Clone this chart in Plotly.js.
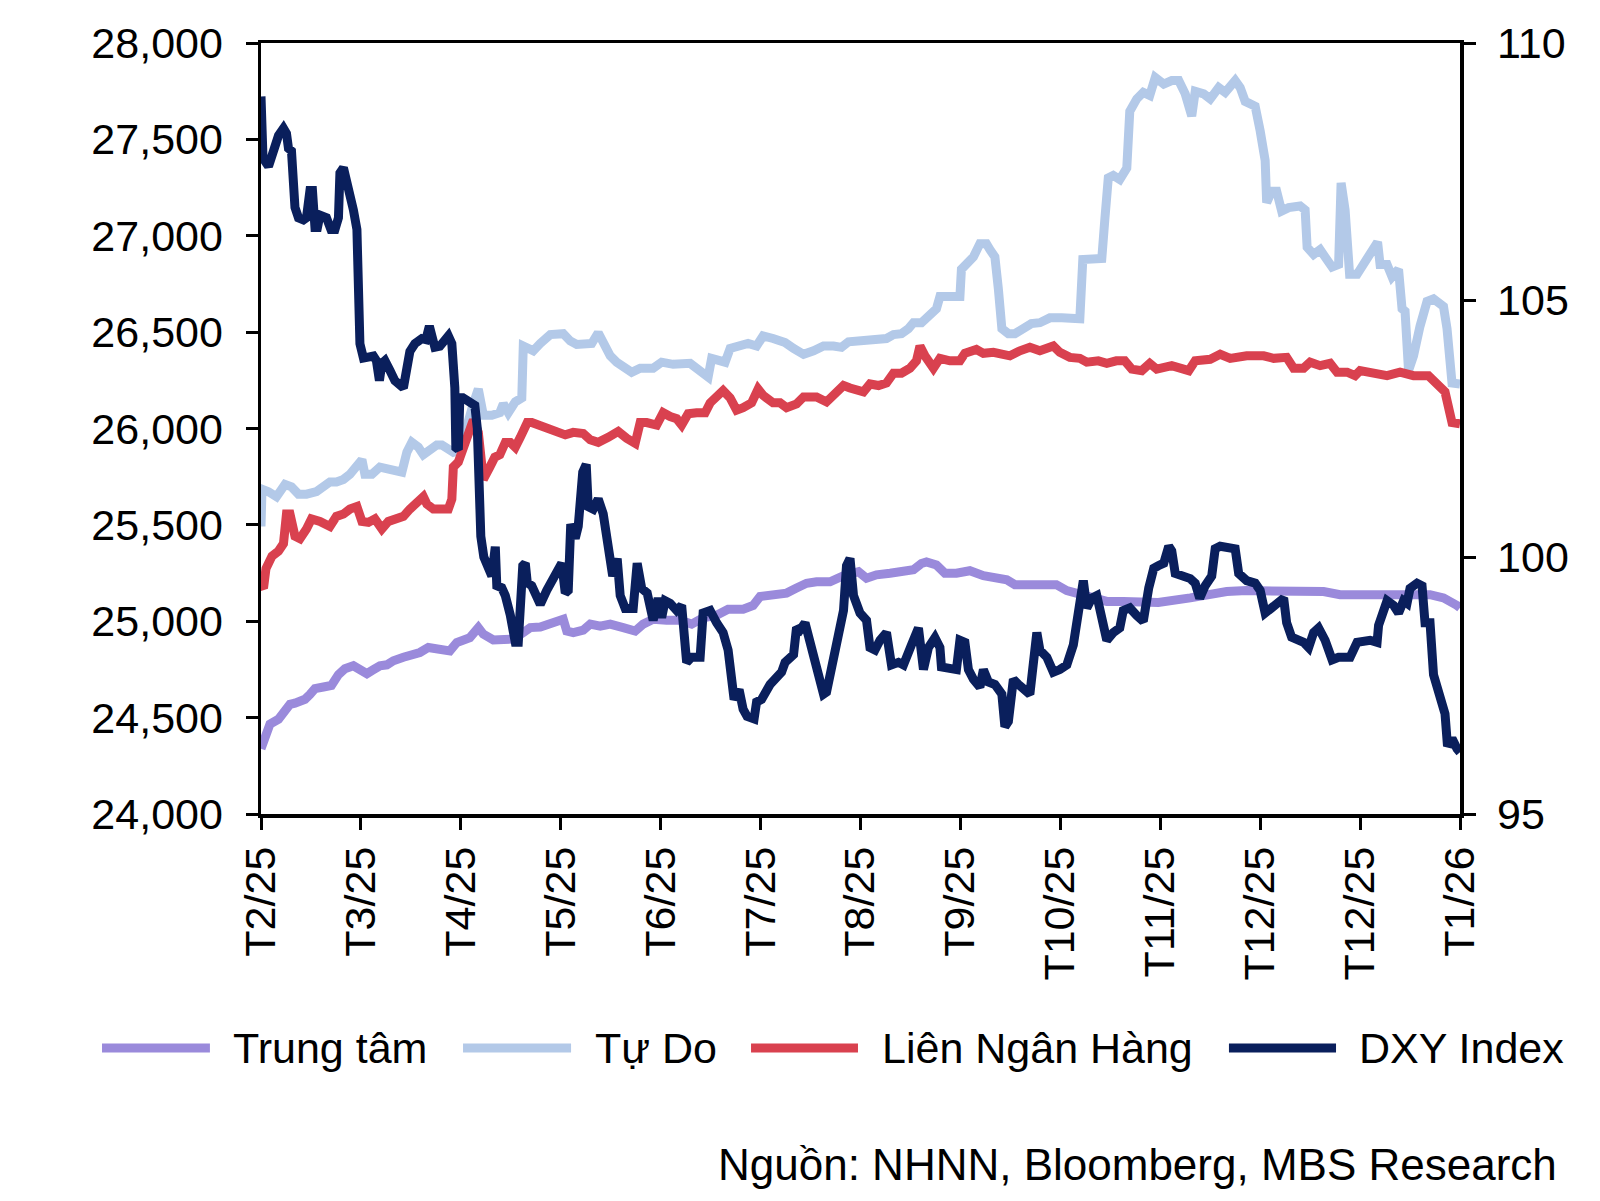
<!DOCTYPE html>
<html>
<head>
<meta charset="utf-8">
<script src="https://cdn.plot.ly/plotly-3.0.1.min.js"></script>
<style>
html,body{margin:0;padding:0;background:#fff;}
#chart{width:1600px;height:1201px;}
</style>
</head>
<body>
<div id="chart"></div>
<script>
// x positions are trading-day indices (0..240); ticks every 20 days
const tickIdx = [0,20,40,60,80,100,120,140,160,180,200,220,240];
const tickLabels = ["T2/25","T3/25","T4/25","T5/25","T6/25","T7/25","T8/25","T9/25","T10/25","T11/25","T12/25","T12/25","T1/26"];
const seriesNames = ["Trung tâm","Tự Do","Liên Ngân Hàng","DXY Index"];

const trungTamX = [0,0.8,1.8,3.5,4.8,5.8,6.8,8.8,9.8,10.8,12.5,14.1,15.5,16.8,18.5,19.8,21.2,22.5,23.8,25.2,26.5,28.5,30.2,31.8,33.5,35.8,37.8,39.2,40.5,41.8,43.5,44.5,46.5,48.5,50.5,52.5,53.9,55.9,57.9,59.5,60.5,61.2,62.5,64.5,65.9,67.9,69.9,72.5,74.9,76.5,78.5,81.2,83.9,86.2,88.5,91.2,93.5,96.5,98.5,99.9,102.5,105.2,107.2,109.2,111.2,113.9,116.6,119.6,121.2,123.2,125.9,128.6,130.6,132.2,133.2,135.2,136.9,139.2,141.9,144.6,147.3,149.3,150.9,153.2,155.9,159.2,161.3,163.9,167.3,169.3,172.6,175.9,179.6,186.0,189.3,193.3,197.3,202.7,208.0,212.7,216.0,222.7,229.4,234.0,236.7,239.4,240];
const trungTam = [24339,24415,24467,24492,24531,24569,24575,24595,24620,24651,24659,24667,24723,24754,24769,24749,24728,24749,24769,24774,24795,24813,24826,24838,24864,24857,24846,24890,24903,24915,24967,24933,24903,24908,24908,24941,24967,24970,24992,25005,25010,24949,24941,24954,24985,24974,24985,24967,24949,24985,25010,25005,25005,24985,25018,25031,25062,25062,25082,25128,25133,25146,25172,25197,25205,25205,25236,25257,25223,25241,25249,25262,25267,25300,25308,25292,25249,25249,25262,25236,25223,25215,25190,25190,25197,25190,25159,25138,25121,25103,25103,25103,25097,25121,25138,25154,25159,25159,25154,25154,25138,25133,25138,25138,25121,25082,25070];

const tuDoX = [0,0.2,1.5,3.1,4.8,6.1,7.5,9.1,11.1,12.8,13.8,15.1,16.5,17.8,18.8,20.2,20.8,22.2,23.8,25.2,26.8,28.2,29.2,30.2,31.5,32.5,33.9,35.2,36.2,37.2,38.5,39.9,41.2,42.4,43.5,43.8,44.5,46.2,47.8,48.5,49.5,50.9,52.2,52.5,53.2,54.5,55.9,57.2,57.9,60.5,61.9,63.2,64.5,66.2,67.5,68.5,69.9,71.2,72.5,74.2,75.9,78.5,80.2,82.5,85.9,87.2,88.5,89.5,90.2,91.5,92.9,93.9,95.9,97.5,99.2,100.5,102.5,104.9,106.6,108.6,110.6,112.6,114.6,116.2,117.6,119.6,122.6,125.2,126.6,128.2,129.6,130.6,132.2,133.9,135.2,135.9,137.9,139.9,140.2,141.6,142.6,143.9,145.2,145.9,146.9,147.6,148.3,149.6,150.9,152.9,154.2,155.9,157.9,160.3,163.9,164.5,166.6,168.3,168.9,169.6,170.6,171.9,173.3,173.9,175.3,176.6,177.9,179.0,180.7,182.3,183.7,185.0,186.3,187.0,188.7,190.0,191.7,193.0,195.0,196.0,197.0,199.0,200.0,201.0,201.3,202.3,203.3,204.3,205.7,208.0,209.0,209.4,210.7,212.0,213.0,214.4,215.7,216.2,217.0,217.9,219.4,222.0,223.5,224.0,225.4,226.4,227.7,228.4,229.0,229.7,230.7,232.0,233.4,234.7,236.7,237.4,238.4,240];
const tuDo = [25492,25685,25672,25646,25710,25697,25659,25659,25672,25697,25723,25723,25736,25762,25800,25838,25762,25762,25800,25795,25787,25774,25877,25928,25903,25864,25890,25915,25915,25903,25877,25890,26031,26120,26205,26159,26069,26069,26082,26128,26082,26138,26159,26428,26415,26403,26441,26472,26487,26492,26454,26436,26441,26441,26497,26454,26377,26344,26326,26292,26313,26313,26344,26333,26338,26313,26274,26267,26364,26351,26344,26415,26428,26441,26428,26480,26467,26446,26415,26385,26403,26428,26428,26421,26450,26454,26462,26467,26487,26492,26518,26549,26549,26595,26621,26685,26685,26685,26826,26856,26890,26959,26959,26928,26890,26723,26518,26492,26492,26523,26544,26549,26574,26574,26569,26877,26882,26882,27082,27300,27313,27292,27351,27646,27710,27744,27728,27821,27787,27805,27805,27736,27621,27749,27736,27710,27769,27744,27805,27769,27697,27672,27544,27390,27172,27231,27231,27128,27146,27154,27133,26941,26903,26928,26890,26838,26851,27274,27133,26800,26800,26915,26967,26851,26851,26787,26826,26621,26608,26300,26377,26531,26659,26672,26633,26518,26236,26231];

const lienNHX = [0,0.5,1.0,2.2,3.5,4.5,5.1,5.8,6.8,7.8,9.1,10.1,11.8,13.8,15.1,16.5,17.8,19.2,20.2,21.5,22.8,24.2,25.5,27.2,28.5,29.8,31.2,32.5,33.2,34.5,36.2,37.5,38.2,38.5,39.5,40.5,41.8,42.5,43.5,44.5,45.8,46.8,47.8,48.9,49.9,50.9,51.9,53.3,54.2,56.6,58.5,60.9,62.5,64.5,65.9,67.5,69.5,71.5,73.2,74.9,75.9,77.2,79.2,80.5,81.9,83.2,84.2,85.5,87.2,88.9,89.9,91.2,92.5,93.9,95.2,96.5,98.2,99.5,100.5,102.5,103.9,105.2,107.2,108.6,111.2,113.2,114.9,116.6,117.9,119.6,120.6,121.9,123.6,125.2,126.6,128.2,129.9,131.2,131.9,132.9,134.6,135.9,137.9,139.9,140.9,143.2,144.6,146.6,149.9,151.9,153.9,155.9,158.6,159.9,161.9,163.9,165.3,167.6,169.3,171.2,172.9,174.3,176.3,177.9,179.3,182.3,185.7,187.0,190.0,192.0,194.0,197.3,200.7,202.7,205.3,206.7,208.7,210.0,212.0,214.0,215.4,217.4,219.0,220.0,222.7,225.4,228.0,230.7,233.7,236.0,237.0,238.4,240];
const lienNH = [25185,25172,25274,25338,25364,25403,25556,25556,25441,25428,25479,25531,25518,25492,25544,25556,25582,25595,25518,25513,25531,25479,25518,25531,25544,25582,25621,25646,25608,25582,25582,25582,25633,25800,25826,25903,26005,26044,25980,25736,25800,25851,25864,25928,25928,25903,25954,26031,26031,26005,25985,25967,25980,25974,25941,25928,25954,25985,25949,25923,26031,26031,26018,26082,26062,26051,26018,26077,26082,26082,26133,26159,26197,26159,26095,26108,26133,26205,26172,26133,26133,26108,26128,26164,26164,26138,26179,26223,26210,26197,26190,26231,26223,26236,26287,26287,26313,26351,26428,26377,26313,26364,26351,26351,26390,26410,26390,26395,26377,26403,26421,26403,26428,26395,26369,26364,26344,26351,26338,26351,26351,26308,26300,26338,26308,26326,26300,26351,26359,26385,26364,26377,26377,26364,26369,26313,26313,26344,26326,26338,26292,26292,26274,26300,26282,26274,26292,26274,26274,26223,26190,26031,26024];

const dxyX = [0,0.4,1.5,2.5,3.5,4.5,5.1,5.5,6.1,6.8,7.5,8.5,9.1,9.8,10.3,10.8,11.3,11.8,13.1,14.0,14.8,15.5,15.8,16.5,17.5,18.5,19.2,19.5,19.8,20.5,21.5,22.5,23.1,23.7,24.2,24.8,25.8,26.8,28.5,29.2,29.8,30.8,32.2,33.0,33.7,34.2,34.8,35.8,36.6,37.5,38.2,38.8,39.0,39.5,39.8,40.4,41.2,42.8,43.3,43.7,44.0,44.6,45.5,46.2,46.9,47.2,48.2,48.9,49.9,50.9,51.5,52.4,52.9,53.3,54.2,55.2,55.9,57.2,58.9,60.2,60.9,61.5,62.0,62.9,63.5,64.4,65.1,65.5,66.5,67.5,68.5,69.5,70.4,71.3,71.9,72.9,74.5,75.3,76.2,77.3,78.5,79.5,80.2,80.9,81.9,83.2,84.2,85.2,86.2,87.2,87.9,88.5,89.9,91.2,92.5,93.5,94.2,94.7,95.7,96.5,97.3,98.7,99.2,100.2,101.9,103.2,104.2,104.9,106.6,107.2,107.9,108.9,109.9,111.2,112.6,113.2,114.2,115.6,116.6,117.2,117.9,118.6,119.9,121.2,121.9,122.9,123.9,125.2,126.2,127.6,128.6,130.2,131.6,132.6,133.6,134.9,135.9,136.2,137.9,139.2,139.9,140.9,141.6,142.6,143.9,144.6,145.6,146.9,148.3,148.9,149.6,150.6,151.6,152.9,153.9,155.3,155.9,157.3,158.6,159.9,161.3,162.6,163.6,164.6,165.3,166.3,167.3,168.3,169.3,170.6,171.9,172.6,173.9,175.3,176.6,177.7,178.7,179.6,180.7,181.7,182.3,183.0,184.3,186.0,187.0,187.9,189.0,190.3,191.0,192.0,195.0,195.7,197.3,199.0,200.0,201.0,202.3,204.7,205.3,206.3,208.7,209.7,210.7,211.7,213.0,214.4,215.7,218.0,219.4,222.0,223.4,223.7,225.4,226.7,227.7,228.7,229.4,230.0,231.4,232.4,233.0,234.0,234.7,236.0,237.0,237.5,238.4,239.4,240];
const dxy = [108.96,107.76,107.6,107.9,108.2,108.34,108.24,107.95,107.9,106.8,106.6,106.56,106.6,107.13,107.13,106.41,106.41,106.65,106.6,106.37,106.37,106.6,107.47,107.57,107.23,106.75,106.37,104.44,104.15,103.87,103.87,103.91,103.82,103.43,103.77,103.82,103.63,103.43,103.29,103.58,104.0,104.15,104.25,104.23,104.49,104.3,104.08,104.1,104.2,104.3,104.15,103.29,102.13,102.09,103.1,103.1,103.05,102.95,102.5,101.17,100.4,100.0,99.78,99.63,100.2,99.44,99.4,99.25,98.87,98.34,98.34,99.83,99.88,99.5,99.44,99.15,99.08,99.35,99.68,99.88,99.3,99.35,100.64,100.36,100.6,101.65,101.8,100.98,100.93,101.13,100.84,100.31,99.63,99.97,99.25,99.0,99.0,99.88,99.39,99.3,98.77,99.2,98.82,99.15,99.1,98.96,99.06,97.95,98.05,98.05,98.05,98.91,98.96,98.72,98.53,98.19,97.71,97.23,97.42,97.04,96.9,96.85,97.18,97.23,97.52,97.66,97.76,97.95,98.1,98.63,98.58,98.72,98.38,97.9,97.33,97.37,97.9,98.58,98.96,99.83,99.97,99.25,98.91,98.77,98.24,98.19,98.38,98.53,97.9,97.95,97.9,98.29,98.62,97.81,98.24,98.43,98.24,97.86,97.81,97.81,98.38,98.34,97.81,97.62,97.47,97.81,97.57,97.52,97.33,96.7,96.8,97.62,97.52,97.42,97.33,98.53,98.19,98.05,97.76,97.81,97.9,98.29,98.96,99.54,99.01,99.2,99.25,98.86,98.38,98.53,98.62,98.96,99.01,98.86,98.75,99.4,99.78,99.83,99.88,100.21,100.12,99.68,99.63,99.58,99.49,99.2,99.44,99.63,100.16,100.21,100.16,99.68,99.54,99.49,99.35,98.91,99.01,99.2,98.72,98.44,98.34,98.24,98.53,98.62,98.38,98.0,98.05,98.05,98.34,98.38,98.34,98.67,99.15,99.06,98.91,99.15,99.1,99.39,99.49,99.44,98.72,98.72,97.71,97.33,96.95,96.32,96.47,96.27,96.2];

const colors = ["#9A8ADB","#B3C9E8","#D9414F","#0A1F5C"];
const FONT = "Liberation Sans, Arial, Helvetica, sans-serif";
const LW = 9;

const traces = [
  {x: trungTamX, y: trungTam, name: seriesNames[0], type: "scatter", mode: "lines", line: {color: colors[0], width: LW}, yaxis: "y"},
  {x: tuDoX, y: tuDo, name: seriesNames[1], type: "scatter", mode: "lines", line: {color: colors[1], width: LW}, yaxis: "y"},
  {x: lienNHX, y: lienNH, name: seriesNames[2], type: "scatter", mode: "lines", line: {color: colors[2], width: LW}, yaxis: "y"},
  {x: dxyX, y: dxy, name: seriesNames[3], type: "scatter", mode: "lines", line: {color: colors[3], width: LW}, yaxis: "y2"}
];

// custom legend (long line samples) built from the names/colours
const legLineX = [[-0.1326,-0.0426],[0.1685,0.2586],[0.4087,0.4979],[0.8073,0.8966]];
const legTextX = [-0.0250,0.2765,0.5160,0.9145];
const legY = -0.3035;
const shapes = seriesNames.map((n,i)=>({type:"line", xref:"paper", yref:"paper", x0:legLineX[i][0], x1:legLineX[i][1], y0:legY, y1:legY, line:{color:colors[i], width:9}}));
const annotations = seriesNames.map((n,i)=>({text:n, xref:"paper", yref:"paper", x:legTextX[i], y:legY, xanchor:"left", yanchor:"middle", showarrow:false, font:{family:FONT, size:43, color:"#000"}}));
annotations.push({text:"Nguồn: NHNN, Bloomberg, MBS Research", xref:"paper", yref:"paper", x:1.0826, y:-0.454, xanchor:"right", yanchor:"middle", showarrow:false, font:{family:FONT, size:44, color:"#000"}});

const layout = {
  width: 1600, height: 1201,
  margin: {l: 261, r: 140, t: 43, b: 387},
  paper_bgcolor: "#fff", plot_bgcolor: "#fff",
  showlegend: false,
  font: {family: FONT, size: 43, color: "#000"},
  xaxis: {
    range: [0, 240], tickmode: "array", tickvals: tickIdx, ticktext: tickLabels,
    tickangle: -90, ticks: "outside", ticklen: 12, tickwidth: 3, tickcolor: "#000",
    showline: true, linecolor: "#000", linewidth: 3.5, mirror: true,
    showgrid: false, zeroline: false, automargin: false,
    tickfont: {family: FONT, size: 43, color: "#000"}
  },
  yaxis: {
    range: [24000, 28000], dtick: 500, tick0: 24000, tickformat: ",d",
    ticks: "outside", ticklen: 12, tickwidth: 3, tickcolor: "#000",
    showline: true, linecolor: "#000", linewidth: 3.5,
    showgrid: false, zeroline: false, automargin: false, ticklabelstandoff: 14,
    tickfont: {family: FONT, size: 43, color: "#000"}
  },
  yaxis2: {
    range: [95, 110], dtick: 5, tick0: 95, overlaying: "y", side: "right",
    ticks: "outside", ticklen: 12, tickwidth: 3, tickcolor: "#000",
    showline: true, linecolor: "#000", linewidth: 3.5,
    showgrid: false, zeroline: false, automargin: false, ticklabelstandoff: 13,
    tickfont: {family: FONT, size: 43, color: "#000"}
  },
  shapes: shapes,
  annotations: annotations
};

Plotly.newPlot("chart", traces, layout, {staticPlot: true, displayModeBar: false});
</script>
</body>
</html>
